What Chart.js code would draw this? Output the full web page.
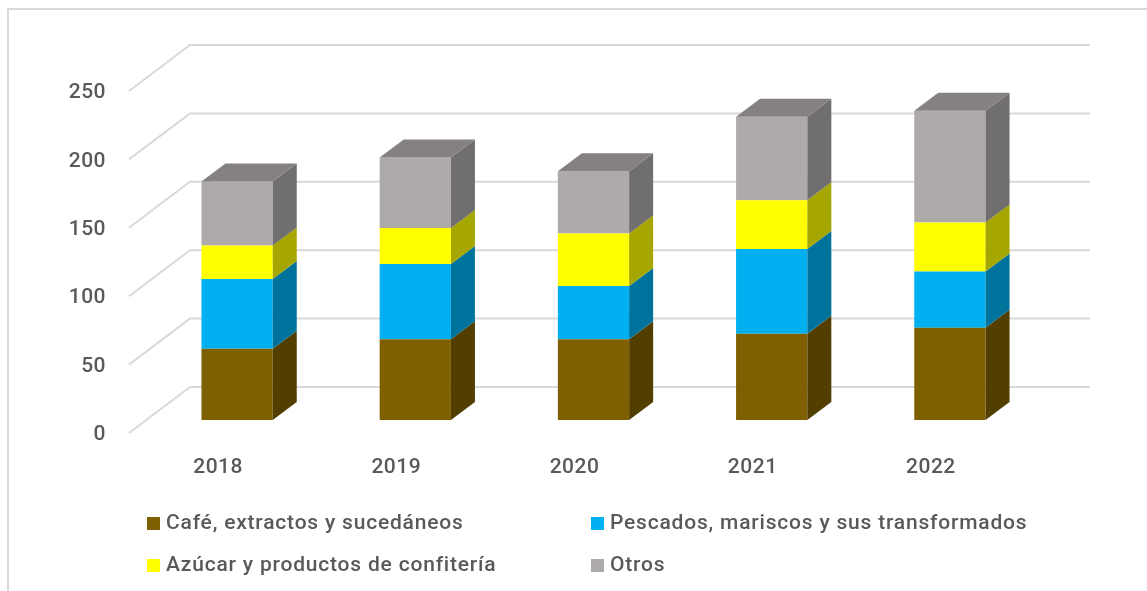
<!DOCTYPE html>
<html>
<head>
<meta charset="utf-8">
<script src="https://cdn.jsdelivr.net/npm/chart.js@4.4.1/dist/chart.umd.min.js"></script>
<style>
  html, body { margin: 0; padding: 0; background: #fff; }
</style>
</head>
<body>
<canvas id="chart" width="1147" height="591"></canvas>
<script>
const years = ['2018', '2019', '2020', '2021', '2022']
const cafe = [52, 59, 59, 63, 67.5]
const pescados = [51, 55, 39, 62, 41]
const azucar = [24.5, 26.3, 38.3, 35.6, 35.8]
const otros = [46.8, 51.6, 45.5, 61, 81.7]
const yTicks = [0, 50, 100, 150, 200, 250]
const seriesNames = [
    'Café, extractos y sucedáneos',
    'Pescados, mariscos y sus transformados',
    'Azúcar y productos de confitería',
    'Otros'
]

const frontColors = ['#7F6000', '#00B0F0', '#FFFF00', '#AEAAAA']
const sideColors = ['#523F00', '#00739C', '#A6A600', '#706E6E']
const topColor = '#858180'
const textColor = '#595959'
const gridColor = '#D9D9D9'
const FONT = 'Roboto, "Noto Sans", sans-serif'

// fake 3d: bar depth and wall offsets, in pixels
const BAR_DX = 24, BAR_DY = 18
const WALL_BACK = -33, WALL_FRONT = 13
const WALL_LEFT_FRONT = 129, WALL_LEFT_BACK = 190, WALL_RIGHT = 1090

const frame = {
    id: 'frame',
    beforeDraw(chart) {
        const ctx = chart.ctx
        ctx.save()
        ctx.fillStyle = '#fff'
        ctx.fillRect(0, 0, chart.width, chart.height)
        ctx.strokeStyle = gridColor
        ctx.lineWidth = 2
        ctx.strokeRect(8, 9, chart.width + 20, chart.height + 20)
        ctx.restore()
        // the original font is a little wider than Roboto
        ctx.letterSpacing = '0.5px'
    }
}

const walls = {
    id: 'walls',
    beforeDatasetsDraw(chart) {
        const ctx = chart.ctx
        const y = chart.scales.y
        ctx.save()
        ctx.strokeStyle = gridColor
        ctx.lineWidth = 2
        yTicks.forEach(v => {
            const p = y.getPixelForValue(v)
            ctx.beginPath()
            ctx.moveTo(WALL_LEFT_FRONT, p + WALL_FRONT)
            ctx.lineTo(WALL_LEFT_BACK, p + WALL_BACK)
            ctx.lineTo(WALL_RIGHT, p + WALL_BACK)
            ctx.stroke()
        })
        ctx.restore()
    }
}

const bars3d = {
    id: 'bars3d',
    afterDatasetsDraw(chart) {
        const ctx = chart.ctx
        const last = chart.data.datasets.length - 1
        ctx.save()
        chart.data.datasets.forEach((ds, d) => {
            const meta = chart.getDatasetMeta(d)
            meta.data.forEach(bar => {
                const p = bar.getProps(['x', 'y', 'base', 'width'], true)
                const l = p.x - p.width / 2
                const r = p.x + p.width / 2
                ctx.fillStyle = sideColors[d]
                ctx.beginPath()
                ctx.moveTo(r, p.y)
                ctx.lineTo(r + BAR_DX, p.y - BAR_DY)
                ctx.lineTo(r + BAR_DX, p.base - BAR_DY)
                ctx.lineTo(r, p.base)
                ctx.closePath()
                ctx.fill()
                if (d === last) {
                    ctx.fillStyle = topColor
                    ctx.beginPath()
                    ctx.moveTo(l, p.y)
                    ctx.lineTo(l + BAR_DX, p.y - BAR_DY)
                    ctx.lineTo(r + BAR_DX, p.y - BAR_DY)
                    ctx.lineTo(r, p.y)
                    ctx.closePath()
                    ctx.fill()
                }
            })
        })
        ctx.restore()
    }
}

// legend in two fixed columns, like the original
const legendGrid = {
    id: 'legendGrid',
    afterDraw(chart) {
        const ctx = chart.ctx
        const cols = [147, 591]
        const rows = [523, 565]
        ctx.save()
        ctx.font = '500 21px ' + FONT
        ctx.letterSpacing = '0.8px'
        ctx.textBaseline = 'middle'
        chart.data.datasets.forEach((ds, i) => {
            const x = cols[i % 2]
            const y = rows[Math.floor(i / 2)]
            ctx.fillStyle = ds.backgroundColor
            ctx.fillRect(x, y - 6, 13, 13)
            ctx.fillStyle = textColor
            ctx.fillText(ds.label, x + 19, y + 1)
        })
        ctx.restore()
    }
}

const datasets = [cafe, pescados, azucar, otros].map((values, i) => ({
    label: seriesNames[i],
    data: values,
    backgroundColor: frontColors[i],
    borderWidth: 0
}))

const tickFont = { family: FONT, size: 21, weight: '500' }

new Chart(document.getElementById('chart'), {
    type: 'bar',
    data: { labels: years, datasets: datasets },
    plugins: [frame, walls, bars3d, legendGrid],
    options: {
        responsive: false,
        animation: false,
        layout: { padding: { top: 78, right: 108, left: 0, bottom: 0 } },
        datasets: { bar: { categoryPercentage: 1, barPercentage: 0.4 } },
        plugins: { legend: { display: false }, tooltip: { enabled: false } },
        scales: {
            x: {
                stacked: true,
                grid: { display: false, drawTicks: false },
                border: { display: false },
                afterFit(scale) { scale.height = 171 },
                ticks: { color: textColor, font: tickFont, padding: 35, labelOffset: -19 }
            },
            y: {
                stacked: true,
                min: 0,
                max: 250,
                grid: { display: false, drawTicks: false },
                border: { display: false },
                afterFit(scale) { scale.width = 148 },
                ticks: { stepSize: 50, color: textColor, font: tickFont, padding: 42, labelOffset: 15 }
            }
        }
    }
})
</script>
</body>
</html>
